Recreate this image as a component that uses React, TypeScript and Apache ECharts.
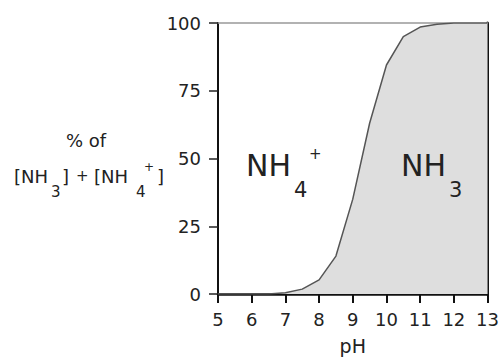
import React, { useEffect, useRef } from "react";
import * as echarts from "echarts";

const phValues = [5, 5.5, 6, 6.5, 7, 7.5, 8, 8.5, 9, 9.5, 10, 10.5, 11, 11.5, 12, 12.5, 13];
const nh3Percent = [0, 0, 0, 0, 0.5, 1.8, 5.2, 14, 35, 63, 84.5, 95, 98.5, 99.5, 100, 100, 100];
const xTicks = { min: 5, max: 13, interval: 1 };
const yTicks = { min: 0, max: 100, interval: 25 };

const FONT = "DejaVu Sans";
const TXT = "#222";

export default function App() {
  const ref = useRef<HTMLDivElement>(null);
  useEffect(() => {
    if (!ref.current) return;
    const chart = echarts.init(ref.current, undefined, { renderer: "svg" });
    const data = phValues.map((p, i) => [p, nh3Percent[i]]);
    const t = (text: string, x: number, y: number, size: number, extra: any = {}) => ({
      type: "text",
      x,
      y,
      style: {
        text,
        fontFamily: FONT,
        fontSize: size,
        fill: TXT,
        textAlign: "left",
        textVerticalAlign: "middle",
        ...extra,
      },
      z: 100,
    });
    chart.setOption({
      animation: false,
      backgroundColor: "#fff",
      grid: { left: 218, top: 23, width: 272, height: 272.5 },
      xAxis: [
        {
          type: "value",
          position: "bottom",
          ...xTicks,
          name: "pH",
          nameLocation: "middle",
          nameGap: 42,
          nameTextStyle: { fontFamily: FONT, fontSize: 19, color: TXT },
          axisLine: { show: true, onZero: false, lineStyle: { color: "#111", width: 2.5 } },
          axisTick: { show: true, length: 9, lineStyle: { color: "#111", width: 2 } },
          axisLabel: { fontFamily: FONT, fontSize: 18, color: TXT, margin: 16 },
          splitLine: { show: false },
        },
        {
          type: "value",
          position: "top",
          ...xTicks,
          axisLine: { show: true, onZero: false, lineStyle: { color: "#999", width: 1.5 } },
          axisTick: { show: false },
          axisLabel: { show: false },
          splitLine: { show: false },
        },
      ],
      yAxis: [
        {
          type: "value",
          position: "left",
          ...yTicks,
          axisLine: { show: true, onZero: false, lineStyle: { color: "#111", width: 2 } },
          axisTick: { show: true, length: 9, lineStyle: { color: "#222", width: 1.5 } },
          axisLabel: { fontFamily: FONT, fontSize: 18, color: TXT, margin: 17 },
          splitLine: { show: false },
        },
        {
          type: "value",
          position: "right",
          ...yTicks,
          axisLine: { show: true, onZero: false, lineStyle: { color: "#111", width: 3 } },
          axisTick: { show: false },
          axisLabel: { show: false },
          splitLine: { show: false },
        },
      ],
      series: [
        {
          type: "line",
          xAxisIndex: 0,
          yAxisIndex: 0,
          data,
          showSymbol: false,
          lineStyle: { color: "#555", width: 1.5 },
          areaStyle: { color: "#dedede", opacity: 1, origin: "start" },
          z: 2,
        },
      ],
      graphic: [
        t("NH", 246, 165, 30),
        t("4", 294, 190, 21),
        t("+", 309, 154, 15),
        t("NH", 401, 165, 30),
        t("3", 449, 190, 21),
        t("% of", 86, 140, 18, { textAlign: "center" }),
        t("[NH", 14, 176, 18),
        t("3", 51, 192, 15),
        t("]", 62, 176, 18),
        t("+", 76, 176, 15),
        t("[NH", 94, 176, 18),
        t("4", 136, 192, 15),
        t("+", 144, 167, 12),
        t("]", 157, 176, 18),
      ],
    });
    return () => chart.dispose();
  }, []);
  return (
    <div
      ref={ref}
      style={{ position: "fixed", left: 0, top: 0, width: 502, height: 360 }}
    />
  );
}
